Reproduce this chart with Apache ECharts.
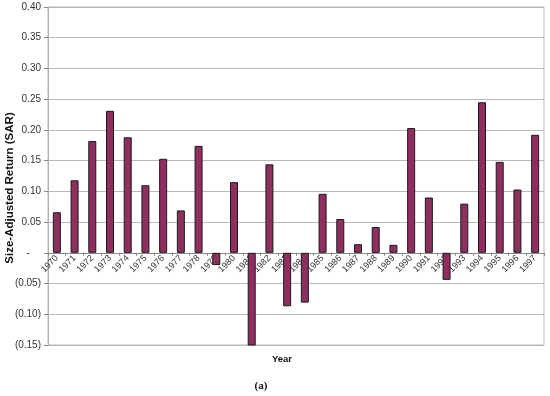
<!DOCTYPE html>
<html>
<head>
<meta charset="utf-8">
<script src="https://cdn.jsdelivr.net/npm/echarts@6/dist/echarts.min.js"></script>
<style>
html,body{margin:0;padding:0;background:#fff;}
#chart{width:550px;height:396px;}
</style>
</head>
<body>
<div id="chart"></div>
<script>
var years = ['1970','1971','1972','1973','1974','1975','1976','1977','1978','1979',
  '1980','1981','1982','1983','1984','1985','1986','1987','1988','1989',
  '1990','1991','1992','1993','1994','1995','1996','1997'];
var sarValues = [0.066, 0.118, 0.182, 0.231, 0.188, 0.110, 0.153, 0.069, 0.174, -0.020,
  0.115, -0.152, 0.144, -0.087, -0.081, 0.096, 0.055, 0.014, 0.042, 0.013,
  0.203, 0.090, -0.044, 0.080, 0.245, 0.148, 0.103, 0.192];
var yTickValues = [0.40, 0.35, 0.30, 0.25, 0.20, 0.15, 0.10, 0.05, 0, -0.05, -0.10, -0.15];
var yTickLabels = ['0.40','0.35','0.30','0.25','0.20','0.15','0.10','0.05','-\u2007\u2007','(0.05)','(0.10)','(0.15)'];
var yMin = -0.15, yMax = 0.40;

var font = '"Liberation Sans", Arial, sans-serif';
var gridTop = 7, gridBottom = 51, H = 396;
var gridH = H - gridTop - gridBottom;
var zeroOffset = -gridH * (0 - yMin) / (yMax - yMin);

var chart = echarts.init(document.getElementById('chart'), null, {renderer: 'canvas'});
chart.setOption({
  animation: false,
  backgroundColor: '#ffffff',
  grid: {left: 48, right: 6, top: gridTop, bottom: gridBottom, show: true, borderColor: '#b8b8b8', borderWidth: 1},
  xAxis: {
    type: 'category',
    data: years,
    offset: zeroOffset,
    axisLine: {onZero: false, lineStyle: {color: '#888888', width: 1}},
    axisTick: {show: true, length: 3, lineStyle: {color: '#888888'}},
    axisLabel: {rotate: 45, fontSize: 9, color: '#333333', fontFamily: font, margin: 4, interval: 0}
  },
  yAxis: {
    type: 'value',
    min: yMin, max: yMax, interval: 0.05,
    axisLine: {show: true, lineStyle: {color: '#b0b0b0'}},
    axisTick: {show: true, length: 4, lineStyle: {color: '#888888'}},
    splitLine: {lineStyle: {color: '#b8b8b8', width: 1}},
    axisLabel: {
      fontSize: 10, color: '#333333', fontFamily: font, margin: 7,
      formatter: function (v) {
        for (var i = 0; i < yTickValues.length; i++) {
          if (Math.abs(yTickValues[i] - v) < 1e-9) return yTickLabels[i];
        }
        return '';
      }
    }
  },
  series: [{
    type: 'bar',
    data: sarValues,
    barWidth: 8,
    itemStyle: {color: '#8e2f60', borderColor: '#1a1a1a', borderWidth: 1}
  }],
  graphic: [
    {type: 'text', x: 10, y: 188, rotation: Math.PI / 2,
     style: {text: 'Size-Adjusted Return (SAR)', font: 'bold 11.5px ' + font, fill: '#111111', textAlign: 'center', textVerticalAlign: 'middle'}},
    {type: 'text', x: 282, y: 359,
     style: {text: 'Year', font: 'bold 9.5px ' + font, fill: '#111111', textAlign: 'center', textVerticalAlign: 'middle'}},
    {type: 'text', x: 261, y: 386,
     style: {text: '(a)', font: 'bold 11px "Liberation Serif", "Times New Roman", serif', fill: '#111111', textAlign: 'center', textVerticalAlign: 'middle'}}
  ]
});
</script>
</body>
</html>
